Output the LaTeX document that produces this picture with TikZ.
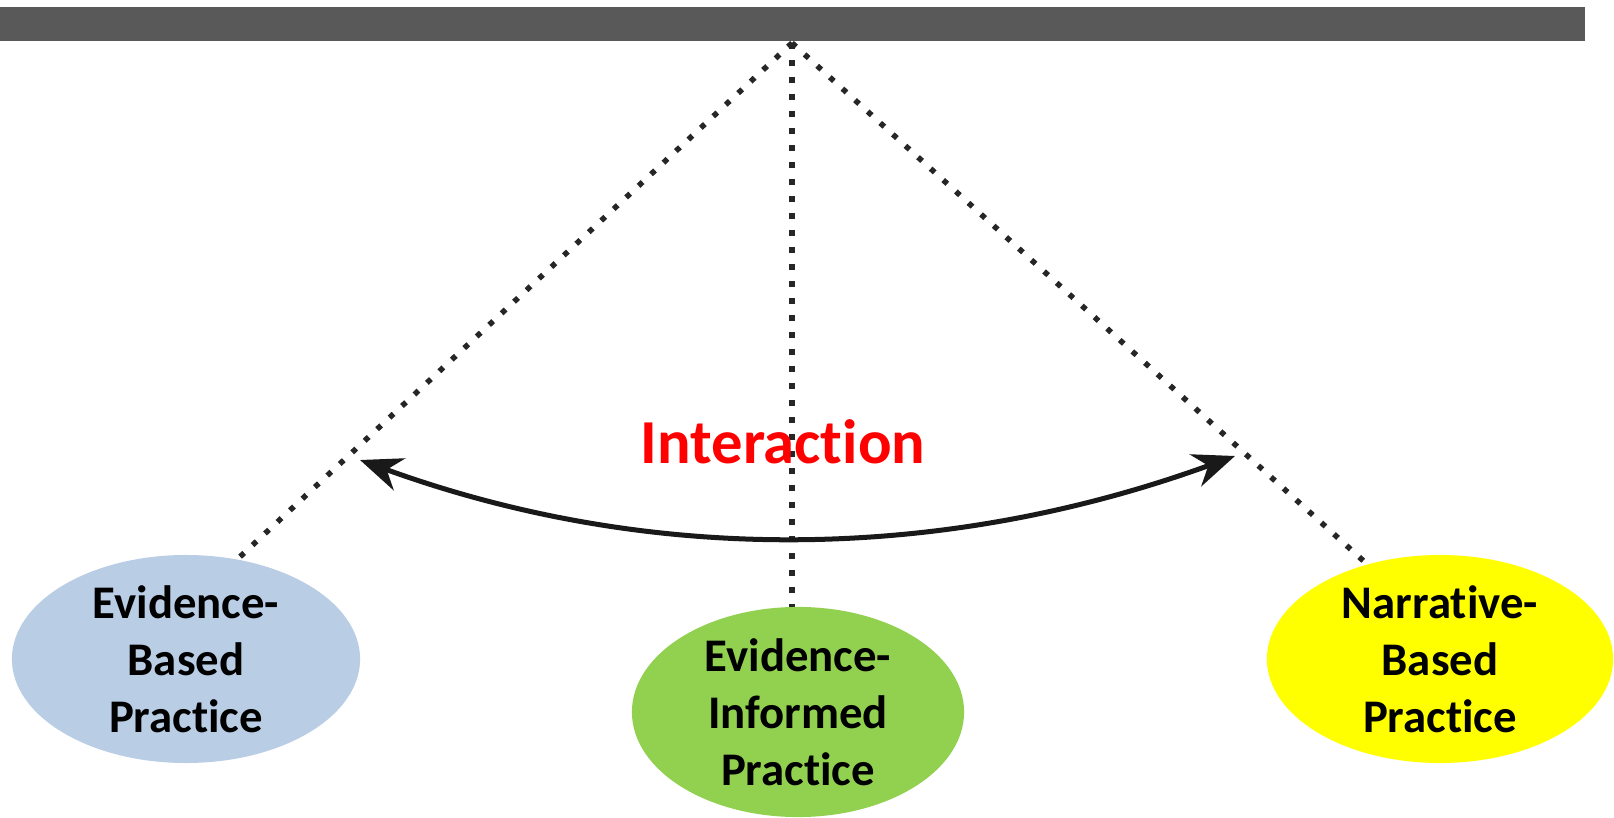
\documentclass[tikz,border=0pt]{standalone}
\usepackage{fontspec}
\setmainfont{Carlito}[Ligatures={NoCommon,NoRare}]
\usetikzlibrary{shapes.geometric,arrows.meta}
\definecolor{barcol}{RGB}{89,89,89}
\definecolor{ebpcol}{RGB}{185,205,229}
\definecolor{eipcol}{RGB}{146,208,80}
\definecolor{nbpcol}{RGB}{255,255,0}
\definecolor{intcol}{RGB}{255,0,0}
\begin{document}
\begin{tikzpicture}[x=0.01cm,y=-0.01cm,
  bubble/.style={ellipse, inner sep=0pt, align=center, text=black,
    font=\bfseries\fontsize{13.3}{16.2}\selectfont},
  dotline/.style={line width=0.055cm, dash pattern=on 0.055cm off 0.115cm, color=black!85},
  swing/.style={line width=0.05cm, color=black!90,
    {Stealth[length=0.42cm,width=0.34cm]}-{Stealth[length=0.42cm,width=0.34cm]}}]
\useasboundingbox (0,0) rectangle (1614,818);
\fill[barcol] (0,7) rectangle (1585,41);
\coordinate (apex) at (792,43);
\coordinate (lend) at (200,594);
\coordinate (cend) at (792,640);
\coordinate (rend) at (1400,594);
\draw[dotline] (apex) -- (lend);
\draw[dotline] (apex) -- (cend);
\draw[dotline] (apex) -- (rend);
\node[bubble, fill=ebpcol, minimum width=3.48cm, minimum height=1.94cm] (ebp) at (186,659) {Evidence-\\Based\\Practice};
\node[bubble, fill=eipcol, minimum width=3.32cm, minimum height=2.10cm] (eip) at (798,712) {Evidence-\\Informed\\Practice};
\node[bubble, fill=nbpcol, minimum width=3.46cm, minimum height=1.96cm] (nbp) at (1440,659) {Narrative-\\Based\\Practice};
\coordinate (al) at (360,460);
\coordinate (ar) at (1235,456);
\draw[swing] (al) .. controls (652,566) and (943,562) .. (ar);
\node[anchor=base, text=intcol, font=\bfseries\fontsize{17.8}{20}\selectfont] (inter) at (783,463) {Interaction};
\end{tikzpicture}
\end{document}
